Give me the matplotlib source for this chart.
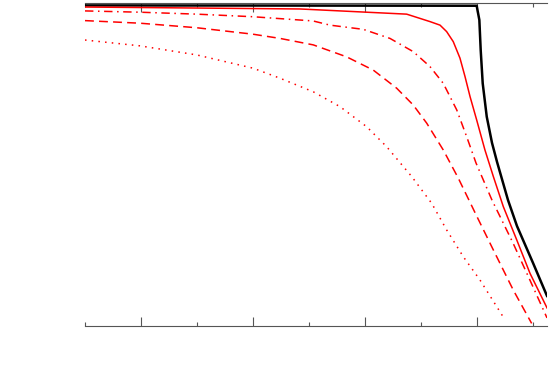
import numpy as np
import matplotlib
matplotlib.use("Agg")
import matplotlib.pyplot as plt

# curves (x in tick units, y normalised 0..1)
x_black = [0.5, 3.997, 4.021, 4.033, 4.051, 4.087, 4.134, 4.179, 4.277, 4.357, 4.5, 4.625]
y_black = [0.991, 0.990, 0.946, 0.853, 0.750, 0.647, 0.566, 0.507, 0.389, 0.309, 0.195, 0.093]

x_solid = [0.5, 2.420, 3.372, 3.580, 3.670, 3.729, 3.788, 3.848, 3.893, 3.938, 3.997,
           4.071, 4.146, 4.235, 4.355, 4.473, 4.625]
y_solid = [0.986, 0.980, 0.964, 0.941, 0.930, 0.910, 0.879, 0.828, 0.771, 0.709, 0.637,
           0.544, 0.462, 0.369, 0.266, 0.163, 0.056]

x_dashdot = [0.5, 0.991, 1.497, 2.0, 2.536, 2.688, 2.985, 3.223, 3.431, 3.580, 3.699,
             3.819, 3.908, 3.991, 4.134, 4.321, 4.5, 4.625]
y_dashdot = [0.974, 0.970, 0.964, 0.956, 0.943, 0.930, 0.917, 0.889, 0.848, 0.802, 0.750,
             0.668, 0.585, 0.504, 0.389, 0.257, 0.121, 0.025]

x_dashed = [0.5, 0.991, 1.497, 2.0, 2.241, 2.538, 2.836, 3.074, 3.283, 3.431, 3.551,
            3.699, 3.833, 3.997, 4.146, 4.324, 4.488]
y_dashed = [0.944, 0.936, 0.922, 0.902, 0.889, 0.869, 0.832, 0.791, 0.735, 0.683, 0.627,
            0.544, 0.457, 0.340, 0.235, 0.111, 0.008]

x_dotted = [0.5, 0.991, 1.497, 2.0, 2.241, 2.538, 2.777, 3.015, 3.194, 3.417, 3.596,
            3.729, 3.878, 4.027, 4.176, 4.250]
y_dotted = [0.884, 0.866, 0.838, 0.797, 0.766, 0.724, 0.678, 0.616, 0.554, 0.462, 0.379,
            0.297, 0.214, 0.142, 0.060, 0.019]

fig = plt.figure(figsize=(5.5, 3.87), dpi=100)
ax = fig.add_axes([85/550, 1 - 326/387, 462/550, 323.5/387])

ax.plot(x_black, y_black, color='black', lw=1.8)
ax.plot(x_solid, y_solid, color='red', lw=1.1)
ax.plot(x_dashdot, y_dashdot, color='red', lw=1.1, dashes=(5.5, 3, 1, 3))
ax.plot(x_dashed, y_dashed, color='red', lw=1.1, dashes=(5.8, 3.4))
ax.plot(x_dotted, y_dotted, color='red', lw=1.1, dashes=(1, 3.4))

ax.set_xlim(0.5, 4.625)
ax.set_ylim(0, 1)
ax.set_xticks([1, 2, 3, 4])
ax.set_xticks([0.5, 1.5, 2.5, 3.5, 4.5], minor=True)
ax.set_yticks([])
ax.tick_params(axis='x', which='both', direction='in', top=True, bottom=True,
               labelbottom=False, color='#555555', width=0.8)
ax.tick_params(axis='x', which='major', length=6.5)
ax.tick_params(axis='x', which='minor', length=3)
ax.spines['left'].set_visible(False)
ax.spines['right'].set_visible(False)
for s in ['top', 'bottom']:
    ax.spines[s].set_color('#555555')
    ax.spines[s].set_linewidth(0.8)

fig.savefig('out.png', dpi=100)
